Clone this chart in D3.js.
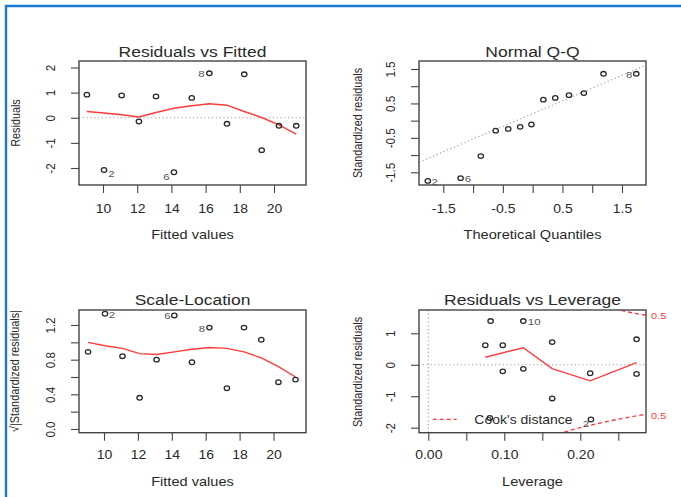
<!DOCTYPE html>
<html>
<head>
<meta charset="utf-8">
<script src="https://cdn.jsdelivr.net/npm/d3@7"></script>
<style>
  html, body { margin: 0; padding: 0; background: #fff; }
  svg text { font-family: 'Liberation Sans', Arial, sans-serif; fill: #2a2a2a; }
</style>
</head>
<body>
<svg id="chart" width="681" height="497"></svg>
<script>
// ---- Residuals vs Fitted / Scale-Location (same fitted values) ----
const fitted      = [9.06, 10.06, 11.09, 12.10, 13.10, 14.15, 15.19, 16.22, 17.25, 18.26, 19.28, 20.29, 21.30];
const residuals   = [0.92, -2.08, 0.89, -0.15, 0.85, -2.17, 0.79, 1.77, -0.24, 1.73, -1.29, -0.32, -0.32];
const residSmooth = [0.25, 0.19, 0.12, 0.03, 0.21, 0.38, 0.48, 0.56, 0.50, 0.25, 0.01, -0.28, -0.65];
const sqrtStdRes  = [0.89, 1.33, 0.84, 0.36, 0.80, 1.31, 0.77, 1.17, 0.47, 1.17, 1.03, 0.54, 0.57];
const scaleSmooth = [1.00, 0.96, 0.93, 0.87, 0.86, 0.89, 0.92, 0.94, 0.93, 0.89, 0.82, 0.72, 0.60];
const obsLabels   = ["", "2", "", "", "", "6", "", "8", "", "", "", "", ""];

// ---- Normal Q-Q ----
const theoQuant   = [-1.76, -1.21, -0.87, -0.62, -0.41, -0.21, -0.02, 0.18, 0.38, 0.61, 0.86, 1.19, 1.74];
const sortedStd   = [-1.75, -1.67, -1.03, -0.29, -0.24, -0.18, -0.11, 0.61, 0.66, 0.74, 0.80, 1.36, 1.36];
const qqLabels    = ["2", "6", "", "", "", "", "", "", "", "", "", "", "8"];
const qqLine      = { intercept: 0.205, slope: 0.741 };

// ---- Residuals vs Leverage ----
const leverage    = [0.075, 0.082, 0.081, 0.098, 0.098, 0.125, 0.125, 0.163, 0.163, 0.213, 0.214, 0.274, 0.274];
const levStdRes   = [0.62, 1.39, -1.69, 0.62, -0.21, 1.39, -0.13, 0.72, -1.07, -0.27, -1.74, 0.81, -0.29];
const levLabels   = ["", "", "", "", "", "10", "", "", "", "", "2", "", ""];
const levSmoothX  = [0.075, 0.125, 0.163, 0.213, 0.274];
const levSmoothY  = [0.24, 0.54, -0.12, -0.51, 0.07];
const cookUpperX  = [0.245, 0.26, 0.275, 0.29];
const cookUpperY  = [1.78, 1.69, 1.62, 1.56];
const cookLowerX  = [0.17, 0.19, 0.21, 0.23, 0.25, 0.27, 0.29];
const cookLowerY  = [-2.21, -2.06, -1.94, -1.83, -1.73, -1.64, -1.56];

// ---- Axis ticks ----
const fittedTicks  = [10, 12, 14, 16, 18, 20];
const residTicks   = [-2, -1, 0, 1, 2];
const qqTicks      = [-1.5, -1, -0.5, 0, 0.5, 1, 1.5];
const qqTickLabels = [-1.5, -0.5, 0.5, 1.5];
const slTicks      = [0, 0.2, 0.4, 0.6, 0.8, 1.0, 1.2];
const slTickLabels = [0, 0.4, 0.8, 1.2];
const levTicks     = [0, 0.05, 0.10, 0.15, 0.20, 0.25];
const levTickLabels= [0, 0.10, 0.20];
const levYTicks    = [-2, -1, 0, 1];

const SQ = 0.86;               // vertical squash of the device
const RED = "#ff3b3b";
const svg = d3.select("#chart");

// page frame
svg.append("line").attr("x1", 5).attr("x2", 681).attr("y1", 6).attr("y2", 6)
  .attr("stroke", "#1a7bd0").attr("stroke-width", 2.4);
svg.append("line").attr("x1", 6).attr("x2", 6).attr("y1", 5).attr("y2", 497)
  .attr("stroke", "#1a7bd0").attr("stroke-width", 2.4);

function hText(g, str, x, y, size, anchor = "middle", color = null) {
  const t = g.append("text").attr("transform", `translate(${x},${y}) scale(1,${SQ})`)
    .attr("text-anchor", anchor).style("font-size", size + "px").text(str);
  if (color) t.style("fill", color);
  return t;
}
function vText(g, str, x, y, size) {
  return g.append("text").attr("transform", `translate(${x},${y}) rotate(-90) scale(${SQ},1)`)
    .attr("text-anchor", "middle").attr("dy", "0.35em").style("font-size", size + "px").text(str);
}

function panel(cfg) {
  const g = svg.append("g");
  const { x0, x1, y0, y1, xs, ys } = cfg;
  const clipId = "clip" + cfg.id;
  g.append("clipPath").attr("id", clipId).append("rect")
    .attr("x", x0).attr("y", y0).attr("width", x1 - x0).attr("height", y1 - y0);

  // x axis
  const xa = g.append("g").attr("transform", `translate(0,${y1})`)
    .call(d3.axisBottom(xs).tickValues(cfg.xTicks).tickSize(8)
      .tickFormat(d => cfg.xLabels.some(v => Math.abs(v - d) < 1e-9) ? cfg.xFmt(d) : ""));
  xa.select(".domain").remove();
  xa.selectAll(".tick line").attr("stroke", "#444").attr("stroke-width", 1.1);
  xa.selectAll(".tick text").attr("y", null).attr("dy", "0.71em")
    .attr("transform", `translate(0,${cfg.xLabOff}) scale(1,${SQ})`)
    .style("font-size", "14px").attr("fill", "#2a2a2a");

  // y axis
  const ya = g.append("g").attr("transform", `translate(${x0},0)`)
    .call(d3.axisLeft(ys).tickValues(cfg.yTicks).tickSize(8)
      .tickFormat(d => cfg.yLabels.some(v => Math.abs(v - d) < 1e-9) ? cfg.yFmt(d) : ""));
  ya.select(".domain").remove();
  ya.selectAll(".tick line").attr("stroke", "#444").attr("stroke-width", 1.1);
  ya.selectAll(".tick text").attr("x", null).attr("dy", "0.35em").attr("text-anchor", "middle")
    .attr("transform", `translate(-29,0) rotate(-90) scale(${SQ},1)`)
    .style("font-size", "13.5px").attr("fill", "#2a2a2a");

  const plot = g.append("g").attr("clip-path", `url(#${clipId})`);
  g.append("rect").attr("x", x0).attr("y", y0).attr("width", x1 - x0).attr("height", y1 - y0)
    .attr("fill", "none").attr("stroke", "#444").attr("stroke-width", 1.4);

  hText(g, cfg.title, (x0 + x1) / 2, cfg.titleY, 17.5);
  hText(g, cfg.xTitle, (x0 + x1) / 2, cfg.xTitleY, 14.6);
  vText(g, cfg.yTitle, cfg.yTitleX, cfg.yTitleY, 12.6);
  return { g, plot };
}

function points(p, xs, ys, xv, yv) {
  p.selectAll(null).data(xv).join("ellipse")
    .attr("cx", (d, i) => xs(xv[i])).attr("cy", (d, i) => ys(yv[i]))
    .attr("rx", 2.7).attr("ry", 2.3)
    .attr("fill", "none").attr("stroke", "#2a2a2a").attr("stroke-width", 1.3);
}
function pointLabels(g, xs, ys, xv, yv, labs, offs) {
  labs.forEach((l, i) => {
    if (!l) return;
    const o = offs[l];
    hText(g, l, xs(xv[i]) + o[0], ys(yv[i]) + o[1], 11.5, o[2] || "middle", "#555")
      .attr("dy", "0.35em");
  });
}
function pathXY(p, xs, ys, xv, yv, color, dash) {
  const line = d3.line().x((d, i) => xs(xv[i])).y((d, i) => ys(yv[i]));
  p.append("path").attr("d", line(xv)).attr("fill", "none")
    .attr("stroke", color).attr("stroke-width", 1.4)
    .attr("stroke-dasharray", dash || null);
}
const dotted = (p, x1, y1, x2, y2) => p.append("line")
  .attr("x1", x1).attr("y1", y1).attr("x2", x2).attr("y2", y2)
  .attr("stroke", "#999").attr("stroke-width", 1.1).attr("stroke-dasharray", "1.2,2.6");

const intFmt = d => String(d);
const oneDec = d => d.toFixed(1);
const twoDec = d => d.toFixed(2);

// ---------- Residuals vs Fitted ----------
{
  const xs = d3.scaleLinear().domain([10, 20]).range([103, 274]);
  const ys = d3.scaleLinear().domain([-2, 2]).range([168, 67.5]);
  const { g, plot } = panel({ id: 1, x0: 79, x1: 306, y0: 61, y1: 185, xs, ys,
    xTicks: fittedTicks, xLabels: fittedTicks, xFmt: intFmt, xLabOff: 19.5,
    yTicks: residTicks, yLabels: residTicks, yFmt: intFmt,
    title: "Residuals vs Fitted", titleY: 57.3, xTitle: "Fitted values", xTitleY: 239.3,
    yTitle: "Residuals", yTitleX: 16, yTitleY: 123 });
  dotted(plot, 79, ys(0), 306, ys(0));
  pathXY(plot, xs, ys, fitted, residSmooth, RED);
  points(plot, xs, ys, fitted, residuals);
  pointLabels(g, xs, ys, fitted, residuals, obsLabels,
    { "2": [7.5, 4], "6": [-7.5, 4], "8": [-8, 0] });
}

// ---------- Normal Q-Q ----------
{
  const xs = d3.scaleLinear().domain([-1.5, 1.5]).range([443.3, 622]);
  const ys = d3.scaleLinear().domain([-1.5, 1.5]).range([172.3, 69]);
  const { g, plot } = panel({ id: 2, x0: 419, x1: 646, y0: 61, y1: 185, xs, ys,
    xTicks: qqTicks, xLabels: qqTickLabels, xFmt: oneDec, xLabOff: 19.5,
    yTicks: qqTicks, yLabels: qqTickLabels, yFmt: oneDec,
    title: "Normal Q-Q", titleY: 57.3, xTitle: "Theoretical Quantiles", xTitleY: 238.5,
    yTitle: "Standardized residuals", yTitleX: 358, yTitleY: 123 });
  const qx = xs.invert(419), qx2 = xs.invert(646);
  dotted(plot, xs(qx), ys(qqLine.intercept + qqLine.slope * qx),
               xs(qx2), ys(qqLine.intercept + qqLine.slope * qx2));
  points(plot, xs, ys, theoQuant, sortedStd);
  pointLabels(g, xs, ys, theoQuant, sortedStd, qqLabels,
    { "2": [7, 0.5], "6": [7.5, 0.5], "8": [-7, 1] });
}

// ---------- Scale-Location ----------
{
  const xs = d3.scaleLinear().domain([10, 20]).range([104, 273.5]);
  const ys = d3.scaleLinear().domain([0, 1.2]).range([429, 325]);
  const { g, plot } = panel({ id: 3, x0: 79, x1: 306, y0: 310, y1: 432.7, xs, ys,
    xTicks: fittedTicks, xLabels: fittedTicks, xFmt: intFmt, xLabOff: 18,
    yTicks: slTicks, yLabels: slTickLabels, yFmt: oneDec,
    title: "Scale-Location", titleY: 305, xTitle: "Fitted values", xTitleY: 486,
    yTitle: "\u221A|Standardized residuals|", yTitleX: 15, yTitleY: 371 });
  pathXY(plot, xs, ys, fitted, scaleSmooth, RED);
  points(plot, xs, ys, fitted, sqrtStdRes);
  pointLabels(g, xs, ys, fitted, sqrtStdRes, obsLabels,
    { "2": [7, 0.5], "6": [-7, 0.5], "8": [-7.5, 1] });
}

// ---------- Residuals vs Leverage ----------
{
  const xs = d3.scaleLinear().domain([0, 0.25]).range([428.3, 618.3]);
  const ys = d3.scaleLinear().domain([-2, 1]).range([427.7, 333.3]);
  const { g, plot } = panel({ id: 4, x0: 419, x1: 646, y0: 310, y1: 432.7, xs, ys,
    xTicks: levTicks, xLabels: levTickLabels, xFmt: twoDec, xLabOff: 18,
    yTicks: levYTicks, yLabels: levYTicks, yFmt: intFmt,
    title: "Residuals vs Leverage", titleY: 305, xTitle: "Leverage", xTitleY: 485.5,
    yTitle: "Standardized residuals", yTitleX: 358, yTitleY: 372 });
  dotted(plot, 419, ys(0), 646, ys(0));
  dotted(plot, xs(0), 310, xs(0), 432.7);
  pathXY(plot, xs, ys, levSmoothX, levSmoothY, RED);
  pathXY(plot, xs, ys, cookUpperX, cookUpperY, RED, "4,3");
  pathXY(plot, xs, ys, cookLowerX, cookLowerY, RED, "4,3");
  points(plot, xs, ys, leverage, levStdRes);
  pointLabels(g, xs, ys, leverage, levStdRes, levLabels,
    { "10": [4.5, 0.5, "start"], "2": [-5, 4] });
  // Cook's distance contour labels
  hText(g, "0.5", 651, 315.3, 11, "start", RED).attr("dy", "0.35em");
  hText(g, "0.5", 651, 415.7, 11, "start", RED).attr("dy", "0.35em");
  // legend
  g.append("line").attr("x1", 432.7).attr("x2", 456.7).attr("y1", 419.3).attr("y2", 419.3)
    .attr("stroke", RED).attr("stroke-width", 1.3).attr("stroke-dasharray", "4,3");
  hText(g, "Cook's distance", 474.3, 419.3, 14, "start").attr("dy", "0.35em");
}
</script>
</body>
</html>
